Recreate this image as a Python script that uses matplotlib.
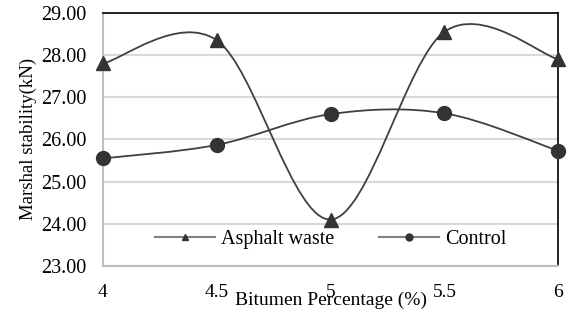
import numpy as np
import matplotlib.pyplot as plt
from matplotlib.path import Path
from matplotlib.patches import PathPatch
from matplotlib.lines import Line2D

plt.rcParams['font.family'] = ['Liberation Serif', 'DejaVu Serif']

bitumen = ['4', '4.5', '5', '5.5', '6']
asphalt_waste = [27.8, 28.35, 24.1, 28.55, 27.9]
control = [25.55, 25.87, 26.6, 26.62, 25.73]
yticks = [23, 24, 25, 26, 27, 28, 29]

line_col = '#404040'
mark_col = '#333333'


def smooth_path(x, y):
    # excel style smoothed line: bezier through the points
    x = np.asarray(x, float)
    y = np.asarray(y, float)
    n = len(x)
    verts = [(x[0], y[0])]
    codes = [Path.MOVETO]
    for i in range(n - 1):
        p0 = np.array([x[max(i - 1, 0)], y[max(i - 1, 0)]])
        p1 = np.array([x[i], y[i]])
        p2 = np.array([x[i + 1], y[i + 1]])
        p3 = np.array([x[min(i + 2, n - 1)], y[min(i + 2, n - 1)]])
        c1 = p1 + (p2 - p0) / 6
        c2 = p2 - (p3 - p1) / 6
        verts += [tuple(c1), tuple(c2), tuple(p2)]
        codes += [Path.CURVE4] * 3
    return Path(verts, codes)


fig = plt.figure(figsize=(5.69, 3.22), dpi=100)
ax = fig.add_axes([0.181, 0.174, 0.8, 0.786])

xs = np.arange(len(bitumen))
for vals, mk, ms in [(asphalt_waste, '^', 10.5), (control, 'o', 10)]:
    ax.add_patch(PathPatch(smooth_path(xs, vals), fill=False, ec=line_col, lw=1.3, zorder=3))
    ax.plot(xs, vals, ls='none', marker=mk, ms=ms, color=mark_col, zorder=4, clip_on=False)

ax.set_xlim(0, len(bitumen) - 1)
ax.set_ylim(23, 29)
ax.set_yticks(yticks)
ax.set_yticklabels([f'{v:.2f}' for v in yticks], fontsize=14.5)
ax.set_xticks(xs)
ax.set_xticklabels(bitumen, fontsize=14)
ax.tick_params(length=0)
ax.tick_params(axis='x', pad=13)
ax.tick_params(axis='y', pad=12)
ax.grid(axis='y', color='#d9d9d9', lw=1.5)
ax.set_axisbelow(True)

for s in ['left', 'bottom']:
    ax.spines[s].set_color('#bfbfbf')
    ax.spines[s].set_linewidth(1.5)
for s in ['top', 'right']:
    ax.spines[s].set_color('black')
    ax.spines[s].set_linewidth(1.2)

ax.set_ylabel('Marshal stability(kN)', fontsize=13.5, labelpad=3)
ax.set_xlabel('Bitumen Percentage (%)', fontsize=14, labelpad=-7)

handles = [Line2D([], [], color='#808080', lw=1.5, marker='^', ms=5, mfc=mark_col, mec=mark_col),
           Line2D([], [], color='#808080', lw=1.5, marker='o', ms=5, mfc=mark_col, mec=mark_col)]
ax.legend(handles, ['Asphalt waste', 'Control'], loc='center', bbox_to_anchor=(0.5, 0.105),
          ncol=2, frameon=False, fontsize=14.5, handlelength=3, columnspacing=2.2, handletextpad=0.3)

fig.savefig('out.png', dpi=100)
